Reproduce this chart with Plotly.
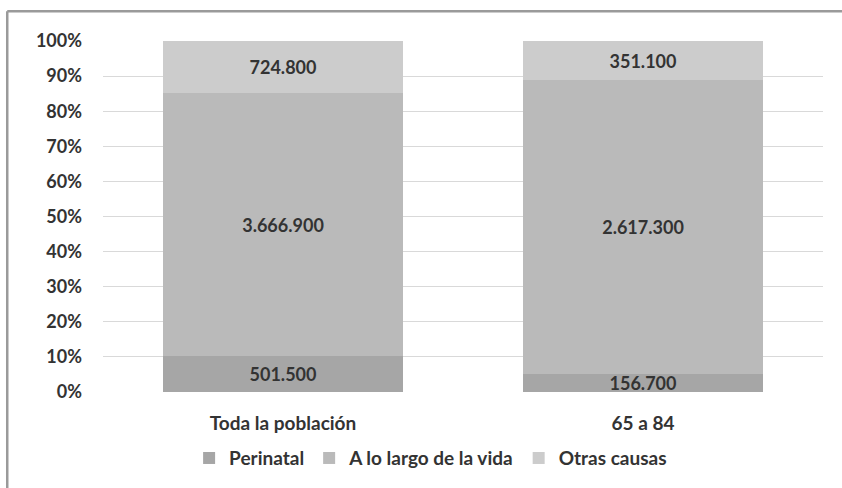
import plotly.graph_objects as go

categories = ["Toda la población", "65 a 84"]
series_names = ["Perinatal", "A lo largo de la vida", "Otras causas"]
perinatal = [501500, 156700]
a_lo_largo = [3666900, 2617300]
otras = [724800, 351100]
series_values = [perinatal, a_lo_largo, otras]
colors = ["#a6a6a6", "#bababa", "#cccccc"]
tick_vals = [0, 10, 20, 30, 40, 50, 60, 70, 80, 90, 100]
tick_text = [f"{v}%" for v in tick_vals]

FONT = "Lato, sans-serif"
TXT = "#333333"

def fmt(v):
    return f"{v:,}".replace(",", ".")

fig = go.Figure()
for name, vals, col in zip(series_names, series_values, colors):
    fig.add_trace(go.Bar(
        x=categories, y=vals, name=name,
        marker=dict(color=col, line=dict(width=0)),
        text=[fmt(v) for v in vals],
        textposition="inside", insidetextanchor="middle",
        constraintext="none",
        textfont=dict(family=FONT, size=18, color=TXT, weight="bold"),
        hoverinfo="skip",
    ))

fig.update_layout(
    barmode="stack", barnorm="percent", bargap=0.333,
    width=842, height=488,
    margin=dict(l=103, r=19, t=41, b=95),
    paper_bgcolor="white", plot_bgcolor="white",
    font=dict(family=FONT, color=TXT, size=18, weight="bold"),
    uniformtext=dict(minsize=18, mode="show"),
    showlegend=True,
    legend=dict(orientation="h", x=0.455, xanchor="center", y=-0.185, yanchor="middle",
                font=dict(family=FONT, size=19, color=TXT, weight="bold"),
                traceorder="normal", itemwidth=30),
    xaxis=dict(showgrid=False, showline=False, ticks="",
               tickfont=dict(family=FONT, size=19, color=TXT, weight="bold"),
               ticklabelstandoff=18),
    yaxis=dict(range=[0, 100], tickvals=tick_vals, ticktext=tick_text,
               showgrid=True, gridcolor="#d9d9d9", gridwidth=1,
               zeroline=False, showline=False, ticks="",
               tickfont=dict(family=FONT, size=18, color=TXT, weight="bold"),
               ticklabelstandoff=20),
    shapes=[
        dict(type="line", xref="paper", yref="paper",
             x0=-0.133, x1=1.1, y0=1.085, y1=1.085,
             line=dict(color="#9a9a9a", width=2.5)),
        dict(type="line", xref="paper", yref="paper",
             x0=-0.133, x1=-0.133, y0=-0.3, y1=1.085,
             line=dict(color="#9a9a9a", width=2.5)),
    ],
)

fig.write_html("out.html", config={"displayModeBar": False},
               post_script="document.body.style.margin='0';document.body.style.overflow='hidden';")
